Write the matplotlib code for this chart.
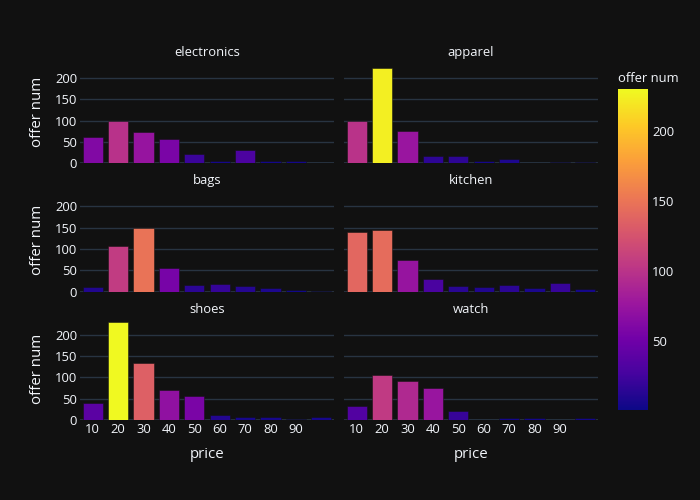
import matplotlib
matplotlib.use("Agg")
import matplotlib.pyplot as plt
from matplotlib.colors import LinearSegmentedColormap, Normalize
from matplotlib.cm import ScalarMappable

# ---- data ----
prices = [10, 20, 30, 40, 50, 60, 70, 80, 90, 100]
price_tick_labels = ["10", "20", "30", "40", "50", "60", "70", "80", "90"]
categories = ["electronics", "apparel", "bags", "kitchen", "shoes", "watch"]
electronics = [61, 99, 74, 57, 22, 5, 30, 4, 4, 1]
apparel = [100, 224, 76, 16, 16, 5, 9, 1, 3, 2]
bags = [10, 107, 149, 55, 15, 19, 12, 9, 3, 1]
kitchen = [140, 144, 74, 29, 14, 10, 15, 8, 20, 5]
shoes = [39, 230, 135, 70, 57, 11, 6, 6, 3, 6]
watch = [34, 105, 92, 75, 20, 1, 4, 4, 1, 4]
series = [electronics, apparel, bags, kitchen, shoes, watch]

plotly_plasma = ['#0d0887', '#46039f', '#7201a8', '#9c179e', '#bd3786',
                 '#d8576b', '#ed7953', '#fb9f3a', '#fdca26', '#f0f921']
cmap = LinearSegmentedColormap.from_list("plasma_plotly", plotly_plasma)
allvals = [v for s in series for v in s]
norm = Normalize(vmin=min(allvals), vmax=max(allvals))

BG = '#111111'
GRID = '#283442'
TXT = '#f2f5fa'
FONT = 'Open Sans'
plt.rcParams['font.family'] = [FONT, 'DejaVu Sans']

TICK_FS = 9.4
AX_FS = 10.8

W, H = 700, 500
fig = plt.figure(figsize=(7, 5), dpi=100, facecolor=BG)

col_x = [80, 344]
col_w = 254
row_top = [60, 188.4, 316.8]
row_h = 103.2
ymax = 242.5

for i, (cat, vals) in enumerate(zip(categories, series)):
    r, c = divmod(i, 2)
    left = col_x[c] / W
    bottom = 1 - (row_top[r] + row_h) / H
    ax = fig.add_axes([left, bottom, col_w / W, row_h / H])
    ax.set_facecolor(BG)
    colors = [cmap(norm(v)) for v in vals]
    ax.bar(prices, vals, width=8, color=colors, edgecolor=(0.07, 0.07, 0.07, 0.6),
           linewidth=0.6, zorder=3)
    ax.set_xlim(5, 105)
    ax.set_ylim(0, ymax)
    for s in ax.spines.values():
        s.set_visible(False)
    ax.set_yticks([0, 50, 100, 150, 200])
    ax.grid(axis='y', color=GRID, linewidth=1, zorder=0)
    ax.axhline(0, color=GRID, linewidth=2, zorder=1)
    ax.tick_params(length=0, colors=TXT, labelsize=TICK_FS, pad=2)
    ax.set_xticks(prices[:9])
    if r == 2:
        ax.set_xticklabels(price_tick_labels)
        ax.set_xlabel('price', color=TXT, fontsize=AX_FS, labelpad=8)
    else:
        ax.set_xticklabels([])
    if c == 0:
        ax.set_ylabel('offer num', color=TXT, fontsize=AX_FS, labelpad=7)
    else:
        ax.set_yticklabels([])
    ax.set_title(cat, color=TXT, fontsize=TICK_FS, pad=3)

# colorbar
cax = fig.add_axes([618 / W, 1 - 410 / H, 30 / W, 321 / H])
sm = ScalarMappable(norm=norm, cmap=cmap)
cb = fig.colorbar(sm, cax=cax)
cb.outline.set_visible(False)
cb.set_ticks([50, 100, 150, 200])
cb.ax.tick_params(length=0, colors=TXT, labelsize=TICK_FS, pad=3)
cax.set_title('offer num', color=TXT, fontsize=TICK_FS, pad=5, loc='left')

fig.savefig('out.png', dpi=100, facecolor=BG)
